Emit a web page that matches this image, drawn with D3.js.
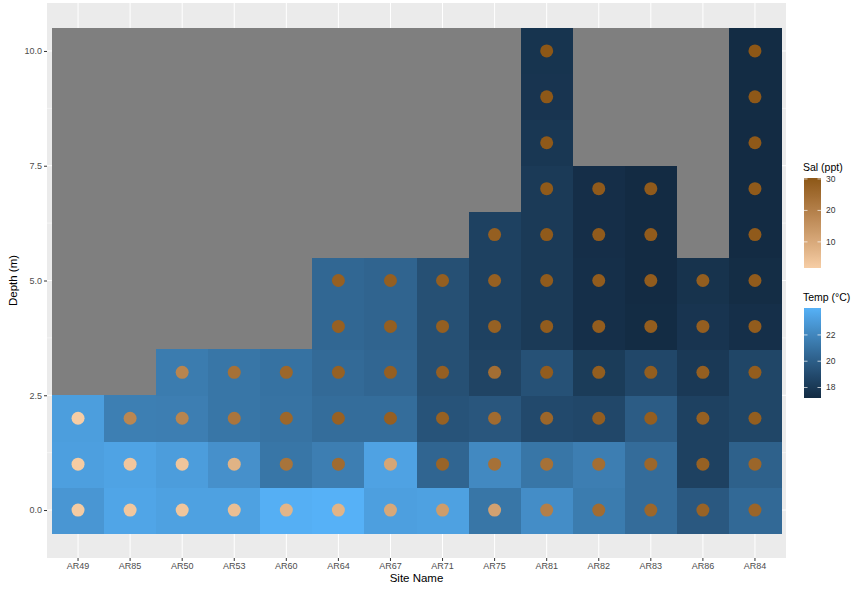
<!DOCTYPE html>
<html><head><meta charset="utf-8">
<script src="https://cdn.jsdelivr.net/npm/d3@7"></script>
<style>body{margin:0;background:#fff;} text{font-family:"Liberation Sans",Arial,sans-serif;}</style>
</head><body><svg id="c" width="861" height="591"></svg>
<script>
const sites = ["AR49","AR85","AR50","AR53","AR60","AR64","AR67","AR71","AR75","AR81","AR82","AR83","AR86","AR84"];
// temperature (°C) by depth index 0,1,2,... for each site
const tempBySite = [
  [22.8, 23.2, 23.15],
  [23.5, 23.4, 21.65],
  [23.3, 23.1, 21.6, 21.5],
  [23.3, 22.5, 21.2, 21.2],
  [23.95, 21.2, 21.05, 21.0],
  [24.05, 21.6, 20.75, 20.6, 20.45, 20.45],
  [23.2, 23.35, 20.75, 20.4, 20.3, 20.3],
  [23.3, 20.35, 19.45, 19.25, 19.25, 19.25],
  [21.2, 22.15, 19.6, 18.6, 18.45, 18.45, 18.45],
  [22.35, 21.2, 18.9, 19.3, 18.05, 18.05, 18.05, 18.05, 17.9, 17.75, 17.7],
  [21.5, 21.6, 18.8, 18.15, 17.45, 17.45, 17.4, 17.4],
  [20.7, 20.7, 19.9, 18.8, 17.25, 17.2, 17.2, 17.2],
  [19.7, 18.45, 18.45, 18.0, 17.75, 17.65],
  [20.55, 20.15, 18.7, 18.7, 17.45, 17.3, 17.2, 17.2, 17.2, 17.25, 17.25]
];
// salinity (ppt) by depth index
const salBySite = [
  [2.2, 2.0, 1.7],
  [3.1, 3.2, 18.2],
  [3.4, 3.6, 18.8, 18.8],
  [5.0, 7.8, 22.6, 23.7],
  [7.2, 22.9, 26.2, 26.2],
  [7.5, 25.1, 27.6, 27.8, 28.0, 28.0],
  [10.2, 10.8, 28.1, 28.1, 28.3, 28.3],
  [13.0, 27.0, 27.8, 28.1, 28.3, 28.3],
  [11.9, 23.7, 25.1, 24.5, 27.8, 28.0, 28.2],
  [20.1, 23.7, 26.5, 28.9, 29.0, 29.2, 29.4, 29.6, 29.8, 30.0, 30.3],
  [24.8, 24.5, 28.4, 28.6, 28.8, 29.0, 29.2, 29.4],
  [26.2, 26.2, 28.4, 28.6, 28.8, 29.0, 29.2, 29.4],
  [27.3, 27.8, 28.0, 28.2, 28.4, 28.6],
  [26.7, 26.5, 28.6, 28.8, 29.0, 29.2, 29.4, 29.6, 29.8, 30.0, 30.3]
];
const yTicks = [0, 2.5, 5, 7.5, 10];
const yMinor = [1.25, 3.75, 6.25, 8.75];
const salTicks = [10, 20, 30];
const tempTicks = [18, 20, 22];

const rows = [];
sites.forEach((s, i) => tempBySite[i].forEach((t, d) => rows.push({site: s, depth: d, temp: t, sal: salBySite[i][d]})));

const svg = d3.select("#c");
const panel = {x0: 47, x1: 786, y0: 3, y1: 558};
const x = d3.scaleBand().domain(sites).range([52, 781]).padding(0);
const y = d3.scaleLinear().domain([-0.5, 10.5]).range([533, 28]);
const tMin = d3.min(rows, d => d.temp), tMax = d3.max(rows, d => d.temp);
const sMin = d3.min(rows, d => d.sal), sMax = d3.max(rows, d => d.sal);
const tempCol = d3.scaleLinear().domain([tMin, tMax]).range(["#132B43", "#56B1F7"]).interpolate(d3.interpolateLab);
const salCol = d3.scaleLinear().domain([sMin, sMax]).range(["#F6CDA5", "#8D5716"]).interpolate(d3.interpolateLab);

// panel background
svg.append("rect").attr("x", panel.x0).attr("y", panel.y0).attr("width", panel.x1 - panel.x0).attr("height", panel.y1 - panel.y0).attr("fill", "#EBEBEB");
const g = svg.append("g");
g.selectAll(".ymin").data(yMinor).join("line").attr("x1", panel.x0).attr("x2", panel.x1).attr("y1", d => y(d)).attr("y2", d => y(d)).attr("stroke", "#fff").attr("stroke-width", 0.5);
g.selectAll(".ymaj").data(yTicks).join("line").attr("x1", panel.x0).attr("x2", panel.x1).attr("y1", d => y(d)).attr("y2", d => y(d)).attr("stroke", "#fff").attr("stroke-width", 1);
g.selectAll(".xmaj").data(sites).join("line").attr("y1", panel.y0).attr("y2", panel.y1).attr("x1", d => x(d) + x.bandwidth() / 2).attr("x2", d => x(d) + x.bandwidth() / 2).attr("stroke", "#fff").attr("stroke-width", 1);

// gray area
svg.append("rect").attr("x", x.range()[0]).attr("y", y(10.5)).attr("width", x.range()[1] - x.range()[0]).attr("height", y(-0.5) - y(10.5)).attr("fill", "#7F7F7F");

// tiles
svg.append("g").attr("shape-rendering", "crispEdges").selectAll("rect").data(rows).join("rect")
  .attr("x", d => x(d.site)).attr("width", x.bandwidth() + 0.5)
  .attr("y", d => y(d.depth + 0.5)).attr("height", d => y(d.depth - 0.5) - y(d.depth + 0.5) + 0.5)
  .attr("fill", d => tempCol(d.temp));
// points
svg.append("g").selectAll("circle").data(rows).join("circle")
  .attr("cx", d => x(d.site) + x.bandwidth() / 2).attr("cy", d => y(d.depth)).attr("r", 6.5)
  .attr("fill", d => salCol(d.sal));

// axes
const ya = svg.append("g").attr("transform", `translate(${panel.x0},0)`)
  .call(d3.axisLeft(y).tickValues(yTicks).tickFormat(d3.format(".1f")).tickSize(3).tickPadding(2));
ya.select(".domain").remove();
ya.selectAll("line").attr("stroke", "#333");
ya.selectAll("text").attr("fill", "#4D4D4D").style("font-size", "9px").style("font-family", "Liberation Sans, Arial, sans-serif");
const xa = svg.append("g").attr("transform", `translate(0,${panel.y1})`)
  .call(d3.axisBottom(x).tickSize(3).tickPadding(2));
xa.select(".domain").remove();
xa.selectAll("line").attr("stroke", "#333");
xa.selectAll("text").attr("fill", "#4D4D4D").style("font-size", "9px").style("font-family", "Liberation Sans, Arial, sans-serif");

svg.append("text").attr("x", (panel.x0 + panel.x1) / 2).attr("y", 582).attr("text-anchor", "middle").style("font-size", "11.5px").attr("fill", "#000").text("Site Name");
svg.append("text").attr("transform", `translate(17,${(panel.y0 + panel.y1) / 2}) rotate(-90)`).attr("text-anchor", "middle").style("font-size", "11.5px").attr("fill", "#000").text("Depth (m)");

// legends
const defs = svg.append("defs");
function colorbar(id, title, scale, ticks, top) {
  const bx = 804, bw = 17, bh = 90, by = top;
  const [dmin, dmax] = scale.domain();
  const grad = defs.append("linearGradient").attr("id", id).attr("x1", 0).attr("y1", 1).attr("x2", 0).attr("y2", 0);
  d3.range(0, 1.0001, 0.05).forEach(f => grad.append("stop").attr("offset", f).attr("stop-color", scale(dmin + f * (dmax - dmin))));
  svg.append("text").attr("x", 803).attr("y", by - 7).style("font-size", "10.5px").attr("fill", "#000").text(title);
  svg.append("rect").attr("x", bx).attr("y", by).attr("width", bw).attr("height", bh).attr("fill", `url(#${id})`);
  const ly = d3.scaleLinear().domain([dmin, dmax]).range([by + bh, by]);
  const tg = svg.append("g");
  tg.selectAll(".tl").data(ticks).join("line").attr("x1", bx).attr("x2", bx + 3.5).attr("y1", d => ly(d)).attr("y2", d => ly(d)).attr("stroke", "#fff").attr("stroke-opacity", 0.7);
  tg.selectAll(".tr").data(ticks).join("line").attr("x1", bx + bw - 3.5).attr("x2", bx + bw).attr("y1", d => ly(d)).attr("y2", d => ly(d)).attr("stroke", "#fff").attr("stroke-opacity", 0.7);
  tg.selectAll("text").data(ticks).join("text").attr("x", bx + bw + 5).attr("y", d => ly(d)).attr("dy", "0.35em").style("font-size", "8.5px").attr("fill", "#333").text(d => d);
}
colorbar("salg", "Sal (ppt)", salCol, salTicks, 178);
colorbar("tempg", "Temp (°C)", tempCol, tempTicks, 308);
</script></body></html>
